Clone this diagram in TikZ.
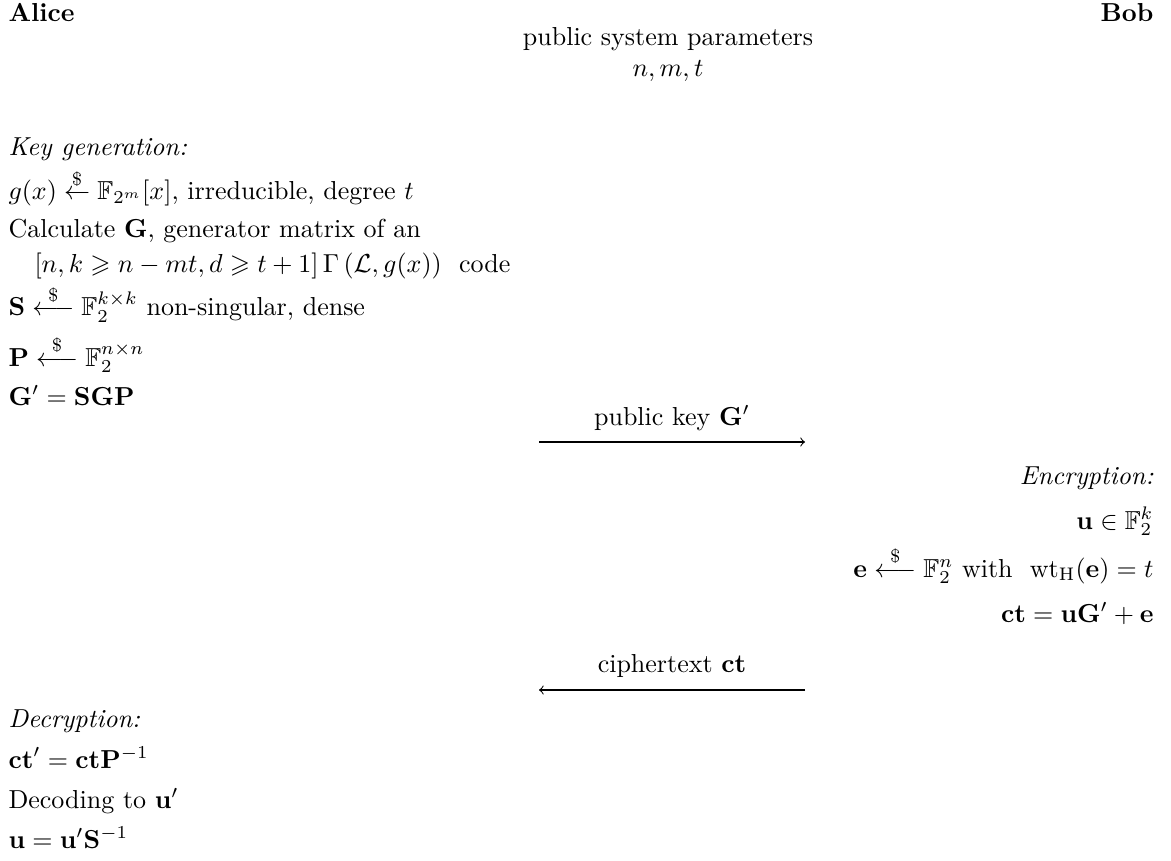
\documentclass[tikz,border=0pt]{standalone}
\usepackage{amsmath,amssymb}
\newcommand{\smp}{\overset{\$}{\longleftarrow}}
\begin{document}
\begin{tikzpicture}[x=0.3846pt,y=-0.3846pt,
  lft/.style={anchor=base west,inner sep=0pt},
  rgt/.style={anchor=base east,inner sep=0pt},
  mid/.style={anchor=base,inner sep=0pt},
  msg/.style={->,line width=0.4pt}]
\useasboundingbox (0,0) rectangle (1171,861);
% headers
\node[lft] (alice) at (8,22) {\textbf{Alice}};
\node[rgt] (bob) at (1154,22) {\textbf{Bob}};
\node[mid] (pub) at (668,46) {public system parameters};
\node[mid] (nmt) at (668,77) {$n, m, t$};
% key generation
\node[lft] (kg) at (8,156) {\textit{Key generation:}};
\node[lft] (g) at (8,200) {$g(x) \stackrel{\$}{\leftarrow} \mathbb{F}_{2^m}[x]$, irreducible, degree $t$};
\node[lft] (calc) at (8,238) {Calculate $\mathbf{G}$, generator matrix of an};
\node[lft] (code) at (8,273) {\quad$[n, k \geqslant n - mt, d \geqslant t+1]\,\Gamma\left(\mathcal{L}, g(x)\right)$\ \ code};
\node[lft] (S) at (8,316) {$\mathbf{S} \smp \mathbb{F}_2^{k\times k}$ non-singular, dense};
\node[lft] (P) at (8,366) {$\mathbf{P} \smp \mathbb{F}_2^{n\times n}$};
\node[lft] (Gp) at (8,405) {$\mathbf{G}' = \mathbf{SGP}$};
% public key message
\node[mid] (pk) at (672,425) {public key $\mathbf{G}'$};
\coordinate (pka) at (539,442);
\coordinate (pkb) at (805,442);
\draw[msg] (pka) -- (pkb);
% encryption
\node[rgt] (enc) at (1154,484) {\textit{Encryption:}};
\node[rgt] (u) at (1154,529) {$\mathbf{u} \in \mathbb{F}_2^k$};
\node[rgt] (e) at (1154,577) {$\mathbf{e} \smp \mathbb{F}_2^n$ with \ $\mathrm{wt}_{\mathrm{H}}(\mathbf{e}) = t$};
\node[rgt] (ct) at (1154,622) {$\mathbf{ct} = \mathbf{u}\mathbf{G}' + \mathbf{e}$};
% ciphertext message
\node[mid] (cm) at (672,672) {ciphertext $\mathbf{ct}$};
\coordinate (cma) at (805,690);
\coordinate (cmb) at (539,690);
\draw[msg] (cma) -- (cmb);
% decryption
\node[lft] (dec) at (8,727) {\textit{Decryption:}};
\node[lft] (ctp) at (8,768) {$\mathbf{ct}' = \mathbf{ct}\mathbf{P}^{-1}$};
\node[lft] (dcd) at (8,808) {Decoding to $\mathbf{u}'$};
\node[lft] (uu) at (8,848) {$\mathbf{u} = \mathbf{u}'\mathbf{S}^{-1}$};
\end{tikzpicture}
\end{document}
